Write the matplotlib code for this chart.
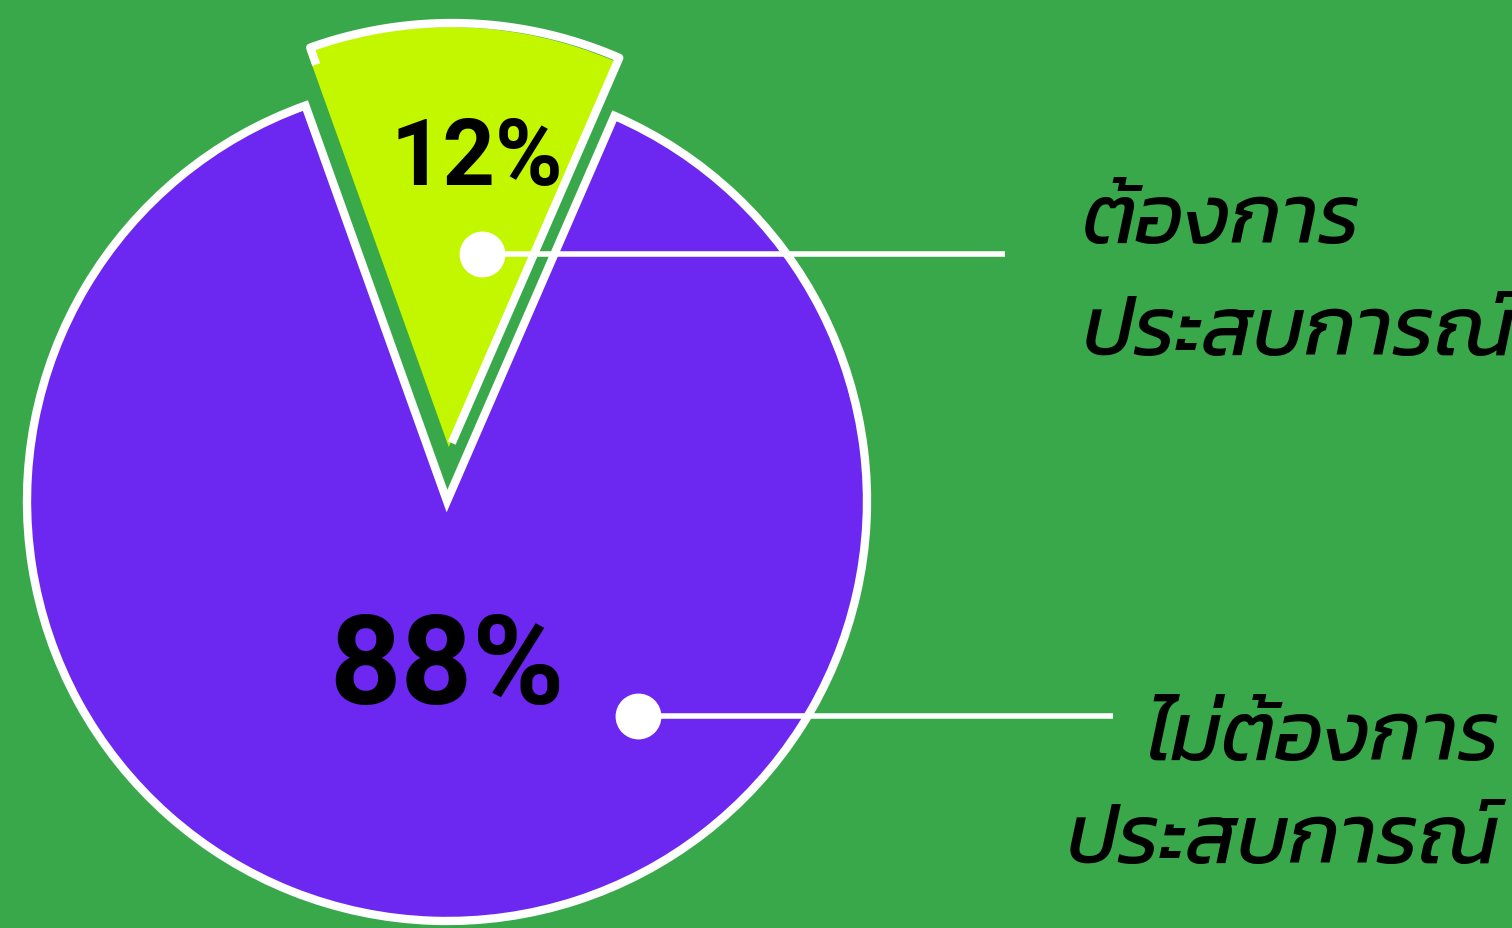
import numpy as np
import matplotlib
matplotlib.use("Agg")
import matplotlib.pyplot as plt

# ข้อมูล
shares = [12, 88]
pct_labels = ["12%", "88%"]
labels = [["ต้องการ", "ประสบการณ์"], ["ไม่ต้องการ", "ประสบการณ์"]]

bg = "#39a84a"
colors = ["#c3f700", "#6c28f0"]

fig = plt.figure(figsize=(15.12, 9.29), dpi=100)
fig.set_facecolor(bg)
ax = fig.add_axes([0, 0, 1, 1])

center = (447, 427)
R = 420
wedges, _ = ax.pie(shares, colors=colors, startangle=66.5, center=center,
                   radius=R, explode=[54, 0], frame=True,
                   wedgeprops=dict(edgecolor="white", linewidth=6))
ax.set_xlim(0, 1512)
ax.set_ylim(0, 929)
ax.set_aspect("equal")
ax.axis("off")

# ชิ้นเล็ก: ขอบขาวเฉพาะด้านบนและด้านขวา
small = wedges[0]
small.set_edgecolor("none")
cx, cy = small.center
t = np.deg2rad(np.linspace(small.theta2, small.theta1, 80))
ex = np.r_[cx + small.r * np.cos(t), cx]
ey = np.r_[cy + small.r * np.sin(t), cy]
lt = np.deg2rad(small.theta2)
ex = np.r_[cx + (small.r - 18) * np.cos(lt), ex]
ey = np.r_[cy + (small.r - 18) * np.sin(lt), ey]
ax.plot(ex + 3, ey + 4, color="white", lw=6, solid_joinstyle="round",
        solid_capstyle="butt", zorder=3)


def polar(w, ang, frac):
    cx, cy = w.center
    a = np.deg2rad(ang)
    return cx + frac * w.r * np.cos(a), cy + frac * w.r * np.sin(a)


# ตัวเลขเปอร์เซ็นต์
pct_pos = [(84.5, 0.69), (270, 0.40)]
pct_size = [66, 90]
for w, txt, (ang, fr), fs in zip(wedges, pct_labels, pct_pos, pct_size):
    x, y = polar(w, ang, fr)
    ax.text(x, y, txt, ha="center", va="center", fontsize=fs,
            fontfamily="Roboto", fontweight="bold", color="black", zorder=5)

# จุดและเส้นชี้
dot_pos = [(80.3, 0.467), (-48.4, 0.685)]
line_end = [1005, 1113]
for w, (ang, fr), xe in zip(wedges, dot_pos, line_end):
    x, y = polar(w, ang, fr)
    ax.plot([x, xe], [y, y], color="white", lw=4, solid_capstyle="butt", zorder=4)
    ax.plot([x], [y], "o", color="white", ms=32, zorder=5)

# ป้ายข้อความ
label_x = [1083, 1500]
label_ha = ["left", "right"]
label_base = [[686, 574], [169, 66]]
for lines, x, ha, bases in zip(labels, label_x, label_ha, label_base):
    for s, yb in zip(lines, bases):
        ax.text(x, yb, s, ha=ha, va="baseline", fontsize=60, fontfamily="Kanit",
                fontstyle="italic", fontweight=400, color="black", zorder=5)

fig.savefig("out.png", facecolor=bg)
